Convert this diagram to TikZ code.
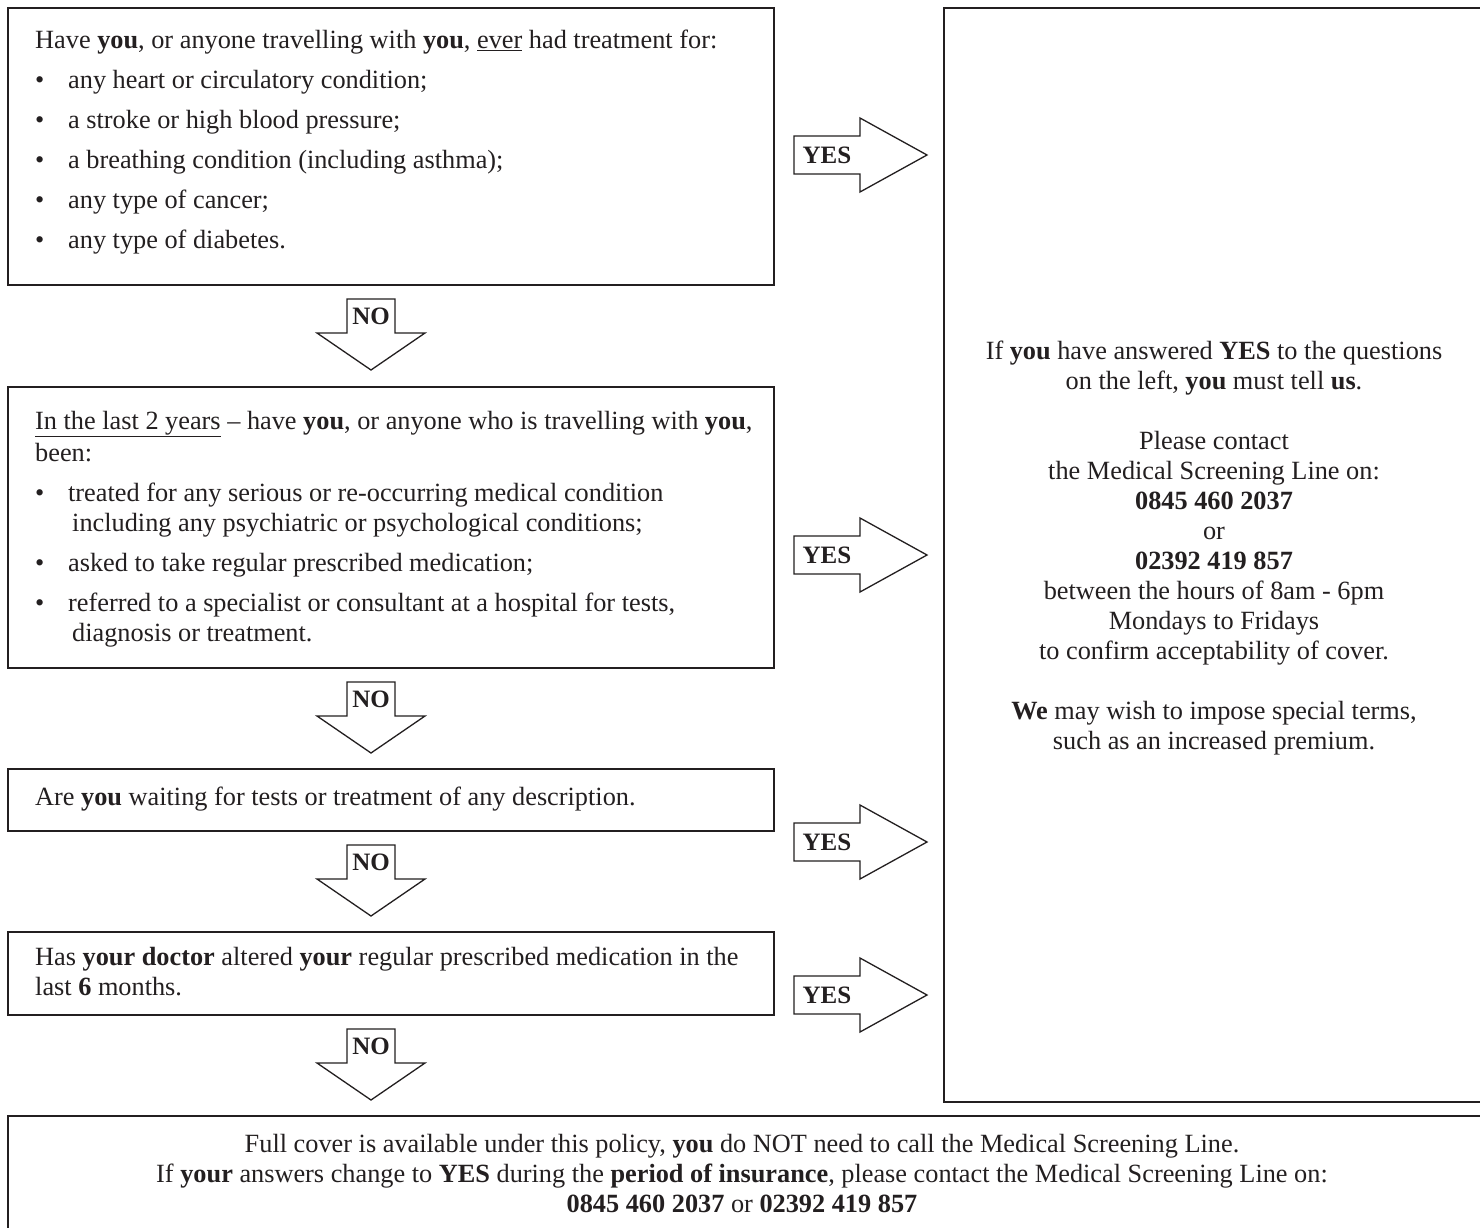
\documentclass[tikz,border=0pt]{standalone}
\usepackage{fontspec}
\setmainfont{Liberation Serif}
\definecolor{ink}{HTML}{231F20}
\newcommand{\bul}{\makebox[33pt][l]{\textbullet}}
\newcommand{\contind}{\hspace*{37pt}}
\newcommand{\noarrow}[3]{% name, center x, top y
  \draw[fatarrow] (#2-24,#3) -- (#2+24,#3) -- (#2+24,#3+34) -- (#2+54,#3+34) -- (#2,#3+71) -- (#2-54,#3+34) -- (#2-24,#3+34) -- cycle;
  \node[arrlbl] (#1) at (#2,#3+17) {NO};}
\newcommand{\yesarrow}[3]{% name, left x, center y
  \draw[fatarrow] (#2,#3-19) -- (#2+66,#3-19) -- (#2+66,#3-37) -- (#2+133,#3) -- (#2+66,#3+37) -- (#2+66,#3+19) -- (#2,#3+19) -- cycle;
  \node[arrlbl] (#1) at (#2+33,#3) {YES};}
\begin{document}
\begin{tikzpicture}[x=1pt,y=-1pt,
  box/.style={draw=ink, line width=2.2pt, inner sep=0pt, anchor=north west},
  fatarrow/.style={draw=ink, line width=1.3pt, fill=white, line join=miter},
  arrlbl/.style={font=\fontsize{25}{28}\selectfont\bfseries, text=ink, inner sep=0pt},
  txt/.style={font=\fontsize{26.3}{30}\selectfont, text=ink, align=left, inner sep=0pt, anchor=north west},
  ctxt/.style={font=\fontsize{26.3}{30}\selectfont, text=ink, align=center, inner sep=0pt}]
\useasboundingbox (0,0) rectangle (1480,1228);
\clip (0,0) rectangle (1480,1228);
\fill[white] (0,0) rectangle (1480,1228);

% boxes
\node[box, minimum width=766pt, minimum height=277pt] (b1) at (7,7) {};
\node[box, minimum width=766pt, minimum height=281pt] (b2) at (7,386) {};
\node[box, minimum width=766pt, minimum height=62pt] (b3) at (7,768) {};
\node[box, minimum width=766pt, minimum height=83pt] (b4) at (7,931) {};
\node[box, minimum width=560pt, minimum height=1094pt] (rb) at (943,7) {};
\node[box, minimum width=1500pt, minimum height=150pt] (bb) at (7,1115) {};

% box texts
\node[txt] (t1) at (35,30) {Have \textbf{you}, or anyone travelling with \textbf{you}, \underline{ever} had treatment for:\\[10pt]
\bul any heart or circulatory condition;\\[10pt]
\bul a stroke or high blood pressure;\\[10pt]
\bul a breathing condition (including asthma);\\[10pt]
\bul any type of cancer;\\[10pt]
\bul any type of diabetes.};

\node[txt] (t2) at (35,411) {\underline{In the last 2 years} -- have \textbf{you}, or anyone who is travelling with \textbf{you},\\[2pt]
been:\\[10pt]
\bul treated for any serious or re-occurring medical condition\\
\contind including any psychiatric or psychological conditions;\\[10pt]
\bul asked to take regular prescribed medication;\\[10pt]
\bul referred to a specialist or consultant at a hospital for tests,\\
\contind diagnosis or treatment.};

\node[txt, anchor=west] (t3) at (35,799) {Are \textbf{you} waiting for tests or treatment of any description.};
\node[txt, anchor=west] (t4) at (35,972) {Has \textbf{your doctor} altered \textbf{your} regular prescribed medication in the\\
last \textbf{6} months.};

\node[ctxt] (tr) at (1214,548) {If \textbf{you} have answered \textbf{YES} to the questions\\
on the left, \textbf{you} must tell \textbf{us}.\\[30pt]
Please contact\\
the Medical Screening Line on:\\
\textbf{0845 460 2037}\\
or\\
\textbf{02392 419 857}\\
between the hours of 8am - 6pm\\
Mondays to Fridays\\
to confirm acceptability of cover.\\[30pt]
\textbf{We} may wish to impose special terms,\\
such as an increased premium.};

\node[ctxt, anchor=north] (tb) at (742,1134) {Full cover is available under this policy, \textbf{you} do NOT need to call the Medical Screening Line.\\
If \textbf{your} answers change to \textbf{YES} during the \textbf{period of insurance}, please contact the Medical Screening Line on:\\
\textbf{0845 460 2037} or \textbf{02392 419 857}};

% NO arrows
\noarrow{n1}{371}{299}
\noarrow{n2}{371}{682}
\noarrow{n3}{371}{845}
\noarrow{n4}{371}{1029}
% YES arrows
\yesarrow{y1}{794}{155}
\yesarrow{y2}{794}{555}
\yesarrow{y3}{794}{842}
\yesarrow{y4}{794}{995}
\end{tikzpicture}
\end{document}
